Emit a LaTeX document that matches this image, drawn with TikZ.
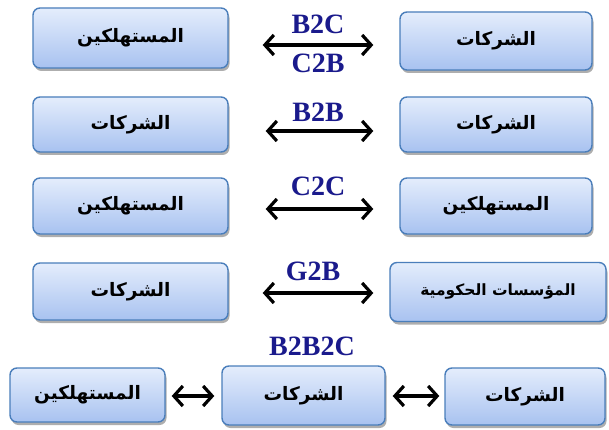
\documentclass[tikz,border=0pt]{standalone}
\usepackage{fontspec}
\setmainfont{Liberation Serif}
\newfontfamily\arabicfont[Script=Arabic]{DejaVu Sans}
\TeXXeTstate=1
\usetikzlibrary{arrows.meta,shadows}

\definecolor{boxtop}{HTML}{E4EDFC}
\definecolor{boxbot}{HTML}{A8C2F0}
\definecolor{boxline}{HTML}{4A7EBB}
\definecolor{labelblue}{HTML}{1A1A8C}

\tikzset{
  entity/.style={draw=boxline, line width=1.4pt, rounded corners=7pt,
    top color=boxtop, bottom color=boxbot,
    drop shadow={shadow xshift=1.5pt, shadow yshift=-3pt, opacity=0.45, fill=black!70},
    font=\arabicfont\bfseries\fontsize{18.5}{22}\selectfont, text=black,
    inner sep=0pt},
  twoway/.style={line width=3.2pt, {Straight Barb[length=9pt,width=20pt]}-{Straight Barb[length=9pt,width=20pt]}},
  mode/.style={text=labelblue, font=\bfseries\fontsize{28}{30}\selectfont, inner sep=0pt}
}

\newcommand{\ar}[1]{\beginR #1\endR}

\begin{document}
\begin{tikzpicture}[x=1pt,y=-1pt]
  \fill[white] (0,0) rectangle (609,430);
  \useasboundingbox (0,0) rectangle (609,430);

  % B2C / C2B
  \node[entity, minimum width=195pt, minimum height=60pt] (l1) at (130.5,38) {\ar{المستهلكين}};
  \node[entity, minimum width=192pt, minimum height=58pt] (r1) at (496,41) {\ar{الشركات}};
  \draw[twoway, shorten <=34pt, shorten >=26pt] (l1.east |- 0,45) -- (r1.west |- 0,45);
  \node[mode] (t1) at (318,24) {B2C};
  \node[mode] (b1) at (318,63) {C2B};

  % B2B
  \node[entity, minimum width=195pt, minimum height=55pt] (l2) at (130.5,124.5) {\ar{الشركات}};
  \node[entity, minimum width=192pt, minimum height=55pt] (r2) at (496,124.5) {\ar{الشركات}};
  \draw[twoway, shorten <=37pt, shorten >=26pt] (l2.east |- 0,131) -- (r2.west |- 0,131);
  \node[mode] (t2) at (318,112) {B2B};

  % C2C
  \node[entity, minimum width=195pt, minimum height=56pt] (l3) at (130.5,206) {\ar{المستهلكين}};
  \node[entity, minimum width=192pt, minimum height=56pt] (r3) at (496,206) {\ar{المستهلكين}};
  \draw[twoway, shorten <=37pt, shorten >=26pt] (l3.east |- 0,209) -- (r3.west |- 0,209);
  \node[mode] (t3) at (318,186) {C2C};

  % G2B
  \node[entity, minimum width=195pt, minimum height=57pt] (l4) at (130.5,291.5) {\ar{الشركات}};
  \node[entity, minimum width=216pt, minimum height=59pt, font=\arabicfont\bfseries\fontsize{15.5}{18}\selectfont] (r4) at (498,292) {\ar{المؤسسات الحكومية}};
  \draw[twoway, shorten <=34pt, shorten >=16pt] (l4.east |- 0,293) -- (r4.west |- 0,293);
  \node[mode] (t4) at (313,271) {G2B};

  % B2B2C
  \node[mode] (t5) at (312,346) {B2B2C};
  \node[entity, minimum width=155pt, minimum height=54pt] (l5) at (87.5,395) {\ar{المستهلكين}};
  \node[entity, minimum width=163pt, minimum height=59pt] (m5) at (303.5,395.5) {\ar{الشركات}};
  \node[entity, minimum width=160pt, minimum height=57pt] (r5) at (525,396.5) {\ar{الشركات}};
  \draw[twoway, shorten <=6pt, shorten >=7pt] (l5.east |- 0,396) -- (m5.west |- 0,396);
  \draw[twoway, shorten <=7pt, shorten >=5pt] (m5.east |- 0,396) -- (r5.west |- 0,396);
\end{tikzpicture}
\end{document}
